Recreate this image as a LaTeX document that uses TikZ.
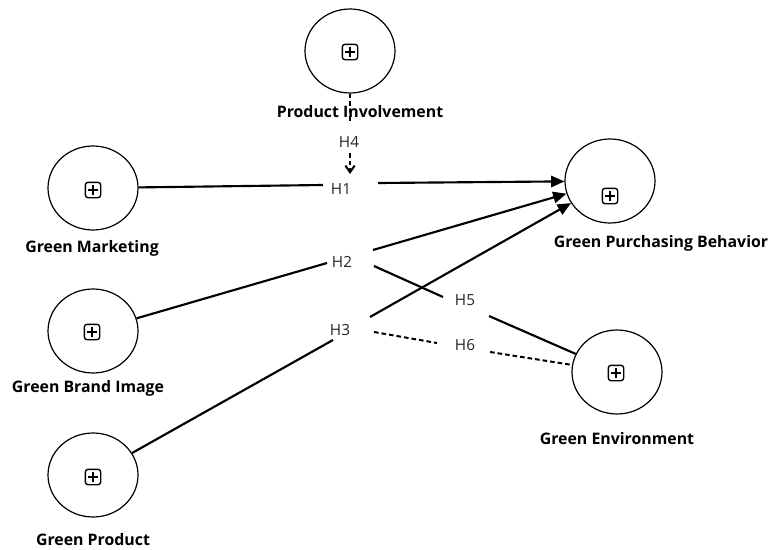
\documentclass[tikz,border=0pt]{standalone}
\usepackage{fontspec}
\setmainfont{Open Sans}
\usetikzlibrary{shapes.geometric,arrows.meta}
\tikzset{
  lv/.style={ellipse,draw,line width=0.9pt,minimum width=67.5pt,minimum height=63pt,inner sep=0pt},
  plusicon/.style={draw,rounded corners=2pt,line width=1pt,minimum size=11.5pt,inner sep=0pt,
    path picture={\draw[line width=0.9pt] ([yshift=-2.2pt]path picture bounding box.north) -- ([yshift=2.2pt]path picture bounding box.south);
                  \draw[line width=0.9pt] ([xshift=2.2pt]path picture bounding box.west) -- ([xshift=-2.2pt]path picture bounding box.east);}},
  lvlabel/.style={font=\bfseries\fontsize{11.9}{14}\selectfont,inner sep=0pt},
  hlabel/.style={font=\fontsize{11.5}{13}\selectfont,inner sep=0pt,text=black!85},
  path/.style={line width=1.6pt},
  arr/.style={-{Triangle[length=10pt,width=8.5pt]}},
  dsh/.style={line width=1.5pt,dash pattern=on 3.5pt off 2.2pt}
}
\begin{document}
\begin{tikzpicture}[x=0.75pt,y=-0.75pt]
\useasboundingbox (0,0) rectangle (769,550);
% latent variables
\node[lv] (PI) at (350,51) {};
\node[lv] (GM) at (93,188) {};
\node[lv] (GBI) at (93,331) {};
\node[lv] (GP) at (93,475) {};
\node[lv] (GE) at (617,372) {};
\node[lv] (GPB) at (610,181) {};
% icons
\node[plusicon] (iPI) at (350,52) {};
\node[plusicon] (iGM) at (93,190) {};
\node[plusicon] (iGBI) at (92,332) {};
\node[plusicon] (iGP) at (93,477) {};
\node[plusicon] (iGE) at (616,373) {};
\node[plusicon] (iGPB) at (610,196) {};
% labels
\node[lvlabel] (lPI) at (360,112) {Product Involvement};
\node[lvlabel] (lGM) at (92,248) {Green Marketing};
\node[lvlabel] (lGBI) at (88,388) {Green Brand Image};
\node[lvlabel] (lGP) at (93,540) {Green Product};
\node[lvlabel] (lGE) at (617,439) {Green Environment};
\node[lvlabel] (lGPB) at (661,243) {Green Purchasing Behavior};
% hypothesis labels
\node[hlabel] (H1) at (341,189) {H1};
\node[hlabel] (H2) at (342,262) {H2};
\node[hlabel] (H3) at (340,330) {H3};
\node[hlabel] (H4) at (349,142) {H4};
\node[hlabel] (H5) at (465,300) {H5};
\node[hlabel] (H6) at (465,345) {H6};
% break coordinates
\coordinate (h1a) at (323,185);
\coordinate (h1b) at (378,183);
\coordinate (h2a) at (327,263);
\coordinate (h2b) at (373,250);
\coordinate (h3a) at (333,340);
\coordinate (h3b) at (370,317);
\coordinate (h4a) at (350,122);
\coordinate (h4b) at (350,153);
\coordinate (h4t) at (350,174);
\coordinate (h5s) at (374,266);
\coordinate (h5a) at (443,297);
\coordinate (h5b) at (489,316);
\coordinate (h6s) at (374,332);
\coordinate (h6a) at (437,343);
\coordinate (h6b) at (490,352);
% connectors
\draw[path] (GM) -- (h1a);
\draw[path,arr] (h1b) -- (GPB);
\draw[path] (GBI) -- (h2a);
\draw[path,arr] (h2b) -- (GPB);
\draw[path] (GP) -- (h3a);
\draw[path,arr] (h3b) -- (GPB);
\draw[dsh] (PI) -- (h4a);
\draw[dsh,-{Straight Barb[length=5pt,width=7pt]}] (h4b) -- (h4t);
\draw[path] (h5s) -- (h5a);
\draw[path] (h5b) -- (GE);
\draw[dsh] (h6s) -- (h6a);
\draw[dsh] (h6b) -- (GE);
\end{tikzpicture}
\end{document}
